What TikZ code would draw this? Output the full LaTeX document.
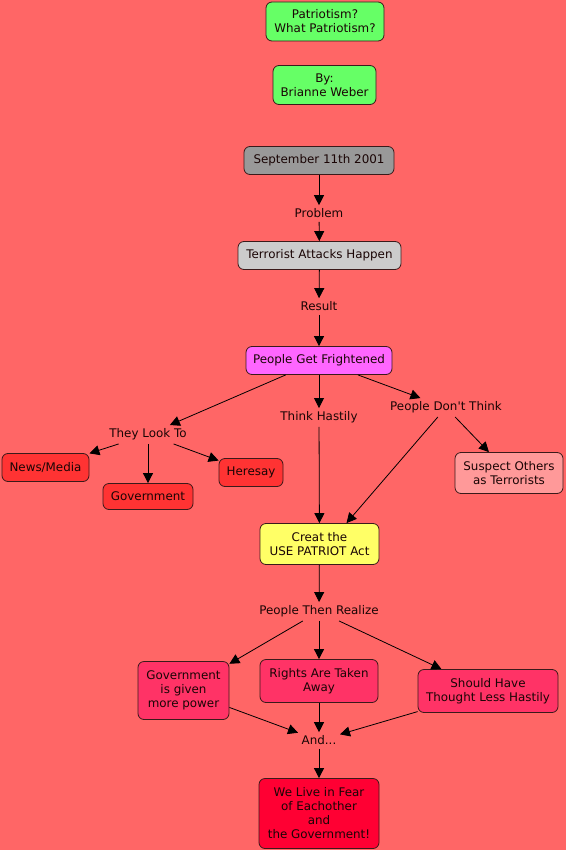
\documentclass[tikz,border=0pt]{standalone}
\usepackage{fontspec}
\setmainfont{DejaVu Sans}
\newfontfamily\myff{DejaVu Sans}
\usetikzlibrary{arrows.meta}
\definecolor{bg}{HTML}{FF6666}
\definecolor{cgreen}{HTML}{66FF66}
\definecolor{cgray}{HTML}{999999}
\definecolor{clgray}{HTML}{CCCCCC}
\definecolor{cmag}{HTML}{FF66FF}
\definecolor{cred}{HTML}{FF3333}
\definecolor{cpink}{HTML}{FF9999}
\definecolor{cyel}{HTML}{FFFF66}
\definecolor{crose}{HTML}{FF3366}
\definecolor{cfinal}{HTML}{FF0033}
\definecolor{boxline}{HTML}{3A1A1A}
\definecolor{txt}{HTML}{1A0505}
\newcommand{\myfont}{\myff\fontsize{11.9}{14}\selectfont}
\begin{document}
\begin{tikzpicture}[x=1pt,y=-1pt,
  box/.style={draw=boxline, rounded corners=6pt, line width=0.8pt, align=center,
    inner sep=0pt, font=\myfont, text=txt},
  lbl/.style={inner sep=3.5pt, font=\myfont, text=txt},
  arr/.style={-{Triangle[length=10pt,width=10pt]}, line width=0.8pt, draw=black}]
\fill[bg] (0,0) rectangle (566,850);
\useasboundingbox (0,0) rectangle (566,850);

% boxes
\node[box, fill=cgreen, minimum width=118pt, minimum height=39pt] (title) at (325,21.5) {Patriotism?\\What Patriotism?};
\node[box, fill=cgreen, minimum width=103pt, minimum height=39pt] (by) at (324.5,85) {By:\\Brianne Weber};
\node[box, fill=cgray, minimum width=150pt, minimum height=28pt] (sep) at (319,160.5) {September 11th 2001};
\node[box, fill=clgray, minimum width=163pt, minimum height=28pt] (ter) at (319.5,255.5) {Terrorist Attacks Happen};
\node[box, fill=cmag, minimum width=146pt, minimum height=28pt] (pgf) at (319,360.5) {People Get Frightened};
\node[box, fill=cred, minimum width=87pt, minimum height=28pt] (news) at (45.5,467.5) {News/Media};
\node[box, fill=cred, minimum width=90pt, minimum height=26pt] (gov) at (148,496.5) {Government};
\node[box, fill=cred, minimum width=64pt, minimum height=28pt] (her) at (251,472.5) {Heresay};
\node[box, fill=cpink, minimum width=108pt, minimum height=41pt] (sus) at (509,473) {Suspect Others\\as Terrorists};
\node[box, fill=cyel, minimum width=119pt, minimum height=41pt] (act) at (319.5,544) {Creat the\\USE PATRIOT Act};
\node[box, fill=crose, minimum width=91pt, minimum height=58pt] (ggp) at (183.5,690.5) {Government\\is given\\more power};
\node[box, fill=crose, minimum width=118pt, minimum height=43pt] (rat) at (319,681) {Rights Are Taken\\Away};
\node[box, fill=crose, minimum width=140pt, minimum height=43pt] (sht) at (488,691) {Should Have\\Thought Less Hastily};
\node[box, fill=cfinal, minimum width=120pt, minimum height=70pt] (fear) at (319,813.5) {We Live in Fear\\of Eachother\\and\\the Government!};

% labels
\node[lbl] (prob) at (319,213.5) {Problem};
\node[lbl] (res) at (319,306.5) {Result};
\node[lbl] (tlt) at (148,434.5) {They Look To};
\node[lbl] (th) at (319,417.5) {Think Hastily};
\node[lbl] (pdt) at (446,407.5) {People Don't Think};
\node[lbl] (ptr) at (319,611.5) {People Then Realize};
\node[lbl] (and) at (319,740.5) {And...};

% connectors
\draw[arr] (sep) -- (prob);
\draw[arr] (prob) -- (ter);
\draw[arr] (ter) -- (res);
\draw[arr] (res) -- (pgf);
\draw[arr] (pgf) -- (tlt);
\draw[arr] (pgf) -- (th);
\draw[arr] (pgf) -- (pdt);
\draw[arr] (tlt) -- (news);
\draw[arr] (tlt) -- (gov);
\draw[arr] (tlt) -- (her);
\draw[arr] (th) -- (act);
\draw[arr] (pdt) -- ([xshift=27pt]act.north);
\draw[arr] (pdt) -- (sus);
\draw[arr] (act) -- (ptr);
\draw[arr] (ptr) -- (ggp);
\draw[arr] (ptr) -- (rat);
\draw[arr] (ptr) -- (sht);
\draw[arr] (ggp) -- (and);
\draw[arr] (rat) -- (and);
\draw[arr] (sht) -- (and);
\draw[arr] (and) -- (fear);
\end{tikzpicture}
\end{document}
